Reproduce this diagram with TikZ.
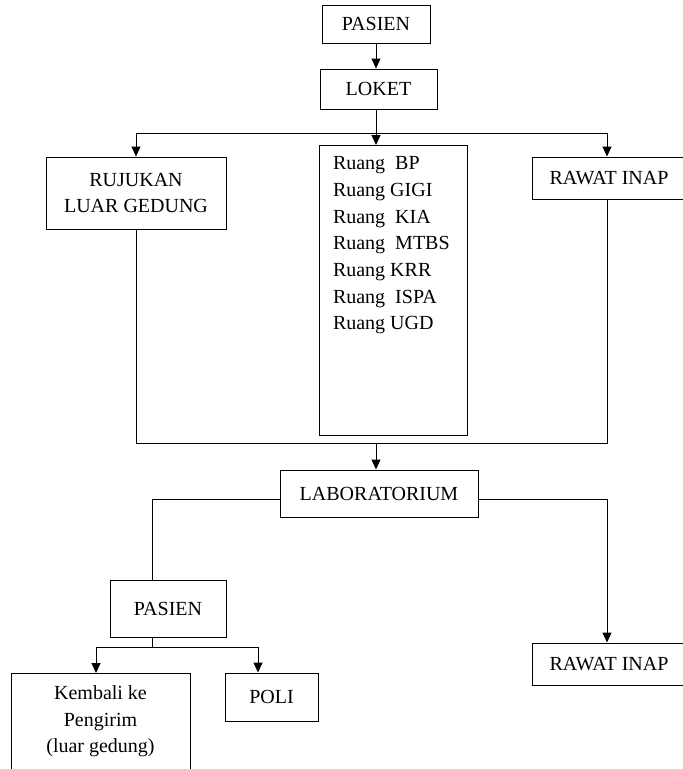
\documentclass[tikz,border=0pt]{standalone}
\usepackage{fontspec}
\setmainfont{Liberation Serif}
\usetikzlibrary{arrows.meta}
\tikzset{
  kotak/.style={draw, line width=1pt, inner sep=0pt, align=center,
                font=\fontsize{20}{26.7}\selectfont},
  panah/.style={-{Triangle[length=10pt,width=9pt]}},
}
\begin{document}
\begin{tikzpicture}[x=1pt,y=-1pt,line width=1pt]%{{{
\useasboundingbox (0,0) rectangle (683,769);
%
% Pasien, loket
\node[kotak, minimum width=108pt, minimum height=38pt] (pasien) at (376,24) {PASIEN};
\node[kotak, minimum width=117pt, minimum height=40pt] (loket) at (378.5,89) {LOKET};
%
% Ruang pelayanan
\node[kotak, minimum width=180pt, minimum height=72pt] (rujukan) at (136,193) {RUJUKAN\\LUAR GEDUNG};
\node[kotak, inner xsep=14pt, anchor=north west] (ruang) at (318.5,145)
     {\parbox[c][290pt][t]{120pt}{\vspace*{11pt}%
      Ruang\ \ BP\\
      Ruang GIGI\\
      Ruang\ \ KIA\\
      Ruang\ \ MTBS\\
      Ruang KRR\\
      Ruang\ \ ISPA\\
      Ruang UGD}};
\node[kotak, minimum width=154pt, minimum height=42pt] (rawat) at (609,178) {RAWAT INAP};
%
% Laboratorium
\node[kotak, minimum width=198pt, minimum height=47pt] (lab) at (379,493.5) {LABORATORIUM};
\node[kotak, minimum width=116pt, minimum height=57pt] (pasienb) at (168,608.5) {PASIEN};
\node[kotak, minimum width=154pt, minimum height=42pt] (rawatb) at (609,664) {RAWAT INAP};
\node[kotak, anchor=north] (kembali) at (100.5,673)
     {\parbox[c][100pt][t]{179pt}{\centering\vspace*{12pt}%
      Kembali ke\\Pengirim\\(luar gedung)}};
\node[kotak, minimum width=93pt, minimum height=48pt] (poli) at (271.5,697) {POLI};
%
% Titik belok
\coordinate (cab)    at (376,133);
\coordinate (kanan)  at (607,133);
\coordinate (gab)    at (376,443);
\coordinate (lkiri)  at (152,499);
\coordinate (pbawah) at (152,647);
\coordinate (kki)    at (96,647);
\coordinate (kka)    at (258,647);
%
% Panah atas
\draw[panah] (pasien.south) -- (pasien.south |- loket.north);
\draw (cab |- loket.south) -- (cab);
\draw[panah] (cab) -- (cab |- ruang.north);
\draw[panah] (cab) -| (rujukan.north);
\draw[panah] (cab) -- (kanan) -- (kanan |- rawat.north);
%
% Gabung ke laboratorium
\draw (rujukan.south) |- (gab);
\draw (kanan |- rawat.south) |- (gab);
\draw[panah] (gab) -- (gab |- lab.north);
%
% Cabang laboratorium
\draw (lab.west |- lkiri) -- (lkiri) -- (lkiri |- pasienb.north);
\draw[panah] (lab.east |- lkiri) -| (kanan |- rawatb.north);
\draw (pbawah |- pasienb.south) -- (pbawah);
\draw[panah] (pbawah) -- (kki) -- (kki |- kembali.north);
\draw[panah] (pbawah) -- (kka) -- (kka |- poli.north);
%
\end{tikzpicture}%}}}
\end{document}
